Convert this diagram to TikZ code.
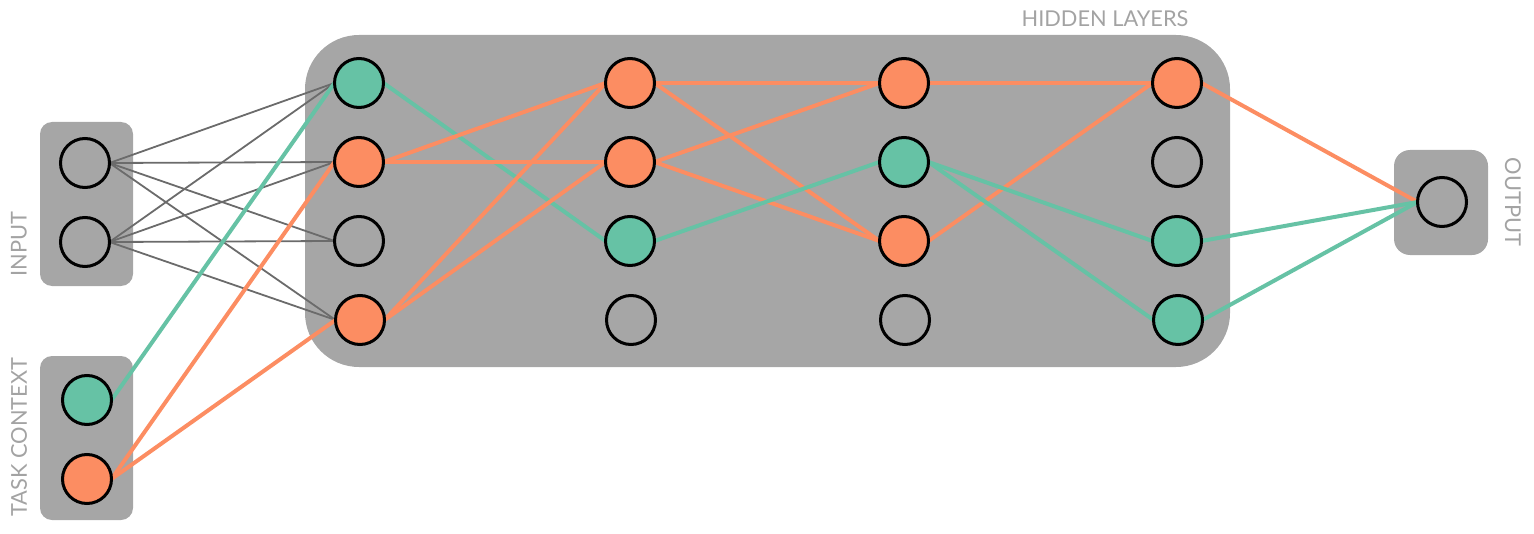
\documentclass[tikz,border=0pt]{standalone}
\usepackage{fontspec}
\setmainfont{Lato}
\pgfdeclarelayer{boxes}
\pgfdeclarelayer{edges}
\pgfsetlayers{boxes,edges,main}
\definecolor{boxgray}{HTML}{A6A6A6}
\definecolor{labelgray}{HTML}{A3A3A3}
\definecolor{teal}{HTML}{66C2A5}
\definecolor{salmon}{HTML}{FC8D62}
\tikzset{
  unit/.style={circle, draw=black, line width=1.5pt, minimum size=24.5pt, inner sep=0pt, outer sep=0pt},
  idle/.style={unit},
  tealunit/.style={unit, fill=teal},
  salmonunit/.style={unit, fill=salmon},
  panel/.style={fill=boxgray, draw=none},
  wire/.style={draw=black!58, line width=0.9pt},
  tealwire/.style={draw=teal, line width=2pt},
  salmonwire/.style={draw=salmon, line width=2pt},
  caption/.style={text=labelgray, font=\fontsize{10.9}{12}\selectfont, inner sep=0pt},
}
\begin{document}
\begin{tikzpicture}[x=0.5pt, y=-0.5pt]
\useasboundingbox (0,0) rectangle (1534,534);

% units
\node[idle] (i1) at (85,163) {};
\node[idle] (i2) at (85,242) {};
\node[tealunit] (c1) at (87,400) {};
\node[salmonunit] (c2) at (87,479) {};

\node[tealunit]   (a1) at (359,83) {};
\node[salmonunit] (a2) at (359,162) {};
\node[idle]       (a3) at (359,241) {};
\node[salmonunit] (a4) at (360,320) {};

\node[salmonunit] (b1) at (630,83) {};
\node[salmonunit] (b2) at (630,162) {};
\node[tealunit]   (b3) at (630,241) {};
\node[idle]       (b4) at (631,320) {};

\node[salmonunit] (d1) at (904,83) {};
\node[tealunit]   (d2) at (904,162) {};
\node[salmonunit] (d3) at (904,241) {};
\node[idle]       (d4) at (905,320) {};

\node[salmonunit] (e1) at (1177,83) {};
\node[idle]       (e2) at (1177,162) {};
\node[tealunit]   (e3) at (1177,241) {};
\node[tealunit]   (e4) at (1178,320) {};

\node[idle] (o1) at (1442,202) {};

% panels
\begin{pgfonlayer}{boxes}
  \fill[panel, rounded corners=6pt] (40,122) rectangle (133,286);
  \fill[panel, rounded corners=6pt] (40,356) rectangle (133,520);
  \fill[panel, rounded corners=27pt] (305,35) rectangle (1230,367);
  \fill[panel, rounded corners=8pt] (1394,150) rectangle (1488,255);
\end{pgfonlayer}

% labels
\node[caption] (hl) at (1105,19) {HIDDEN LAYERS};
\node[caption, rotate=90] (il) at (19,244) {INPUT};
\node[caption, rotate=90] (tl) at (19,437) {TASK CONTEXT};
\node[caption, rotate=-90] (ol) at (1513,202) {OUTPUT};

% connections
\begin{pgfonlayer}{edges}
  \foreach \s in {i1,i2}
    \foreach \t in {a1,a2,a3,a4}
      \draw[wire] (\s.east) -- (\t.west);
  \draw[tealwire] (c1.east) -- (a1.west);
  \draw[salmonwire] (c2.east) -- (a2.west);
  \draw[salmonwire] (c2.east) -- (a4.west);

  \draw[tealwire] (a1.east) -- (b3.west);
  \foreach \s in {a2,a4}
    \foreach \t in {b1,b2}
      \draw[salmonwire] (\s.east) -- (\t.west);

  \foreach \s in {b1,b2}
    \foreach \t in {d1,d3}
      \draw[salmonwire] (\s.east) -- (\t.west);
  \draw[tealwire] (b3.east) -- (d2.west);

  \draw[salmonwire] (d1.east) -- (e1.west);
  \draw[salmonwire] (d3.east) -- (e1.west);
  \draw[tealwire] (d2.east) -- (e3.west);
  \draw[tealwire] (d2.east) -- (e4.west);

  \draw[salmonwire] (e1.east) -- (o1.west);
  \draw[tealwire] (e3.east) -- (o1.west);
  \draw[tealwire] (e4.east) -- (o1.west);
\end{pgfonlayer}
\end{tikzpicture}
\end{document}
